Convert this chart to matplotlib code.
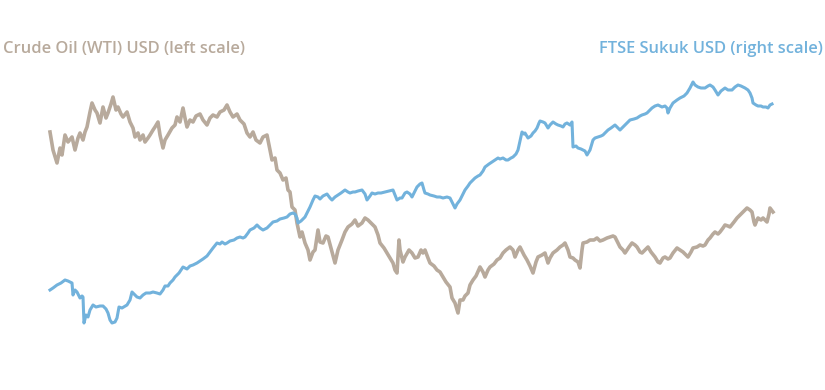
import matplotlib
matplotlib.use("Agg")
import matplotlib.pyplot as plt

# week index from the start of the series
crude_weeks = [
    0, 3, 7, 10, 12, 15, 18, 22, 25, 28, 30, 33, 35, 37, 40, 42, 45, 47, 50, 53,
    56, 58, 61, 63, 66, 68, 71, 73, 77, 80, 83, 85, 88, 90, 93, 95, 98, 100, 103, 105,
    108, 110, 113, 115, 118, 122, 125, 127, 130, 133, 135, 137, 140, 143, 146, 150, 153, 157, 160, 163,
    167, 170, 174, 177, 180, 183, 187, 190, 194, 197, 200, 203, 206, 210, 213, 217, 220, 222, 225, 227,
    230, 233, 236, 238, 240, 242, 245, 247, 250, 252, 255, 258, 260, 263, 265, 268, 270, 273, 276, 278,
    281, 285, 288, 292, 295, 298, 302, 305, 308, 312, 315, 318, 322, 325, 328, 330, 334, 337, 340, 343,
    345, 347, 349, 350, 353, 355, 359, 362, 365, 368, 371, 373, 375, 378, 380, 384, 387, 390, 393, 396,
    400, 402, 405, 408, 410, 413, 415, 418, 420, 423, 426, 430, 433, 435, 438, 440, 444, 447, 450, 453,
    456, 460, 463, 465, 468, 470, 474, 477, 480, 483, 486, 488, 492, 495, 498, 500, 503, 507, 510, 513,
    515, 518, 520, 523, 525, 528, 530, 532, 533, 537, 540, 544, 547, 550, 553, 557, 560, 563, 565, 568,
    570, 573, 575, 579, 582, 585, 587, 590, 592, 595, 598, 601, 605, 608, 610, 613, 615, 618, 620, 623,
    627, 630, 633, 636, 638, 641, 643, 647, 650, 653, 655, 658, 660, 663, 665, 668, 670, 673, 675, 678,
    680, 684, 687, 690, 692, 695, 697, 700, 702, 704, 705, 707, 708, 711, 713, 715, 717, 719, 720, 723,
]
crude_usd = [
    129, 120, 113.5, 121, 117.5, 127.5, 124, 126.5, 120, 126, 128.5, 125, 129, 131.5, 139, 143.5, 140, 138.5, 133.5, 141.5,
    136, 138.5, 143, 146.5, 140, 141.5, 138, 136.5, 139, 134, 131, 126.5, 128.5, 125, 127.5, 124, 126, 127.5, 130, 131.5,
    134, 127.5, 121, 125, 127.5, 131, 132.5, 136.5, 134, 141, 136, 131.5, 135, 134, 137, 138, 135, 132.5, 136, 137.5,
    136.5, 139, 140, 142.5, 139, 136.5, 138, 135, 133, 128.5, 126.5, 129, 125, 123.5, 126.5, 127.5, 120, 115, 116, 110,
    108.5, 105, 106, 100, 99, 91.5, 90, 83.5, 76.5, 79, 73.5, 70, 65, 69, 70, 80, 74, 73.5, 77, 76.5,
    71, 63.5, 70, 75, 79, 81.5, 83, 85, 82, 83.5, 86, 85, 83, 81.5, 77.5, 73.5, 71, 68.5, 66, 63.5,
    60, 58.5, 75, 70, 64, 66.5, 70, 68.5, 66, 66.5, 70, 68.5, 70, 66, 63.5, 62, 60, 59, 56.5, 54,
    51.5, 46, 43.5, 38.5, 45, 45, 47, 48.5, 52.5, 55, 57, 61.5, 59, 56.5, 60, 61.5, 63, 65, 66, 68.5,
    70, 71.5, 70, 66.5, 70, 71.5, 67.5, 65, 62, 58.5, 64, 66.5, 67.5, 68.5, 63.5, 66, 68.5, 70, 71.5, 72.5,
    73.5, 70, 66.5, 66, 65, 64, 61, 70, 73.5, 74, 75, 75, 76, 74.5, 75, 76, 76.5, 77, 76.5, 73.5,
    71.5, 70, 68.5, 71.5, 73.5, 72.5, 71.5, 69, 68.5, 70, 71.5, 69, 66.5, 64, 63.5, 66, 66.5, 65.5, 66, 68.5,
    71, 70, 69, 67.5, 66.5, 69, 71, 71.5, 72.5, 72, 72.5, 75, 76, 78, 79, 78, 79, 81, 82.5, 82,
    81.5, 84, 86, 87.5, 88.5, 90, 91, 90, 89, 84, 82.5, 85, 86, 85, 86, 85, 84, 88, 91, 89,
]

sukuk_weeks = [
    0, 3, 7, 11, 15, 18, 22, 23, 25, 27, 30, 32, 33, 34, 36, 38, 40, 43, 46, 50,
    53, 56, 58, 60, 62, 65, 67, 69, 72, 77, 80, 82, 85, 87, 90, 93, 96, 100, 103, 107,
    110, 113, 115, 118, 120, 123, 125, 129, 133, 137, 140, 143, 147, 150, 153, 157, 160, 163, 167, 170,
    172, 175, 177, 180, 184, 187, 190, 193, 195, 198, 200, 204, 207, 210, 213, 215, 217, 220, 223, 227,
    230, 234, 237, 240, 243, 245, 247, 248, 251, 255, 258, 260, 263, 265, 268, 270, 273, 277, 280, 282,
    285, 288, 291, 295, 298, 300, 303, 305, 308, 312, 315, 317, 320, 322, 325, 328, 331, 335, 339, 343,
    345, 347, 350, 352, 355, 357, 360, 362, 365, 367, 370, 372, 374, 375, 378, 380, 384, 387, 390, 393,
    397, 400, 402, 405, 407, 410, 412, 415, 418, 420, 423, 425, 428, 430, 433, 435, 439, 442, 445, 448,
    450, 453, 456, 458, 461, 463, 466, 468, 470, 472, 474, 475, 478, 481, 483, 485, 487, 489, 490, 493,
    495, 498, 500, 503, 506, 508, 511, 513, 515, 517, 520, 522, 523, 526, 528, 531, 533, 535, 537, 540,
    543, 545, 548, 551, 553, 556, 558, 561, 565, 568, 570, 573, 575, 578, 580, 584, 587, 590, 592, 595,
    597, 600, 602, 605, 608, 612, 615, 617, 618, 620, 623, 627, 630, 634, 637, 640, 643, 645, 648, 651,
    655, 658, 660, 663, 665, 668, 671, 675, 678, 682, 685, 688, 691, 695, 698, 700, 702, 703, 706, 708,
    711, 713, 716, 718, 720, 722,
]
sukuk_usd = [
    80, 81, 82.5, 83.5, 85, 84.5, 83.5, 77.5, 80, 79, 76, 77, 76.5, 63.5, 67.5, 66.5, 70, 72.5, 71.5, 72,
    72, 70.5, 68.5, 65, 63.5, 64, 66, 71.5, 71, 72.5, 75, 79, 77.5, 76.5, 76, 77.5, 78.5, 78.5, 79, 78.5,
    78, 80, 82, 82, 83.5, 85, 86.5, 88.5, 91.5, 90.5, 92, 92.5, 93.5, 94.5, 95.5, 97, 99, 101, 103.5, 103,
    104, 103, 103.5, 104.5, 105, 106, 106.5, 106, 106.5, 108.5, 110, 111, 112.5, 111, 110, 110.5, 111, 112.5, 114, 114.5,
    115.5, 116, 116.5, 118, 118.5, 118, 116, 113.5, 114.5, 116.5, 119.5, 121.5, 125, 127, 126.5, 125.5, 127, 128, 126, 125,
    126.5, 127.5, 128.5, 130, 129, 128.5, 129, 129, 129.5, 130, 128, 125, 127, 128.5, 128, 128.5, 128.5, 129, 129.5, 130,
    127.5, 125, 126, 126, 128.5, 129, 128, 126.5, 129.5, 131.5, 133, 133.5, 130, 128.5, 128, 127.5, 127, 126.5, 126.5, 126,
    126.5, 126, 124, 121, 123, 125, 127, 130, 132, 133.5, 135, 136, 137, 137.5, 139.5, 141.5, 143, 144, 145, 146,
    145.5, 146, 145, 145, 146, 146.5, 148, 150, 154.5, 159, 158, 158.5, 156, 157, 158.5, 159.5, 161, 163.5, 164.5, 164,
    163.5, 161, 162.5, 164, 163, 162.5, 162, 161.5, 163, 163.5, 162.5, 164, 151.5, 152, 151, 150.5, 150, 149.5, 147.5, 150,
    155, 156, 156.5, 157, 157.5, 159, 160, 161, 162.5, 161, 160, 161.5, 162.5, 164, 165, 165.5, 166, 167, 167.5, 168,
    168.5, 170, 171, 172, 172.5, 171.5, 172, 171, 168.5, 171, 173.5, 175, 176, 177, 178.5, 181, 184, 182.5, 181.5, 181,
    181, 182, 182.5, 181.5, 180, 177.5, 179.5, 181, 180, 180, 181.5, 182.5, 182, 181, 180, 178.5, 176, 173.5, 172.5, 172,
    172, 171.5, 171.5, 171, 172.5, 173,
]

CRUDE_COLOR = "#b8aa9c"
SUKUK_COLOR = "#72b2dc"

fig = plt.figure(figsize=(8.25, 3.9), dpi=100)
ax = fig.add_axes([0, 0, 1, 1])
ax2 = ax.twinx()

ax.plot(crude_weeks, crude_usd, color=CRUDE_COLOR, linewidth=2.6)
ax2.plot(sukuk_weeks, sukuk_usd, color=SUKUK_COLOR, linewidth=2.2)

ax.set_xlim(-50, 775)
ax.set_ylim(0, 195)
ax2.set_ylim(30, 225)
for a in (ax, ax2):
    a.set_axis_off()

fig.text(0.004, 0.874, "Crude Oil (WTI) USD (left scale)", color=CRUDE_COLOR,
         fontsize=11.9, family="Open Sans", fontweight="semibold", va="center", ha="left")
fig.text(0.997, 0.874, "FTSE Sukuk USD (right scale)", color=SUKUK_COLOR,
         fontsize=11.9, family="Open Sans", fontweight="semibold", va="center", ha="right")

fig.savefig("out.png", dpi=100, facecolor="white")
